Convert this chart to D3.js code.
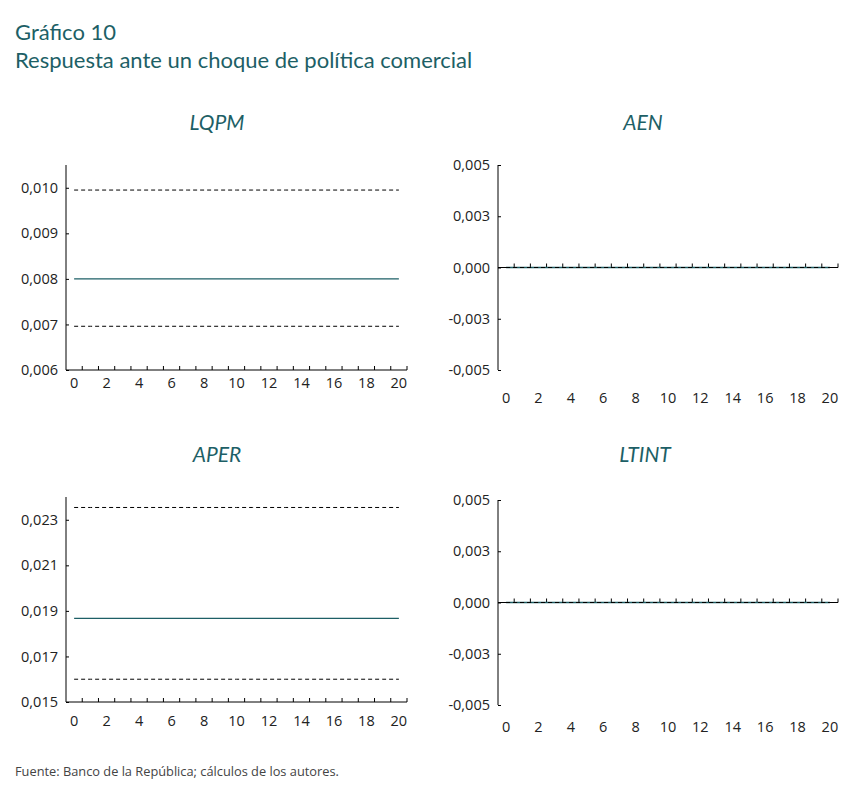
<!DOCTYPE html>
<html>
<head>
<meta charset="utf-8">
<script src="https://cdn.jsdelivr.net/npm/d3@7"></script>
<style>
  body { margin: 0; background: #fff; }
  svg text { font-family: "Lato", "Open Sans", sans-serif; }
  svg .tick text, svg .xl, svg .foot { font-family: "Open Sans", sans-serif; }
</style>
</head>
<body>
<script>
// horizons (quarters after the shock)
var horizons = [0,1,2,3,4,5,6,7,8,9,10,11,12,13,14,15,16,17,18,19,20];
var xLabels = ["0","2","4","6","8","10","12","14","16","18","20"];

// LQPM
var lqpmMid = [0.0080,0.0080,0.0080,0.0080,0.0080,0.0080,0.0080,0.0080,0.0080,0.0080,0.0080,0.0080,0.0080,0.0080,0.0080,0.0080,0.0080,0.0080,0.0080,0.0080,0.0080];
var lqpmUp  = [0.00995,0.00995,0.00995,0.00995,0.00995,0.00995,0.00995,0.00995,0.00995,0.00995,0.00995,0.00995,0.00995,0.00995,0.00995,0.00995,0.00995,0.00995,0.00995,0.00995,0.00995];
var lqpmLo  = [0.00696,0.00696,0.00696,0.00696,0.00696,0.00696,0.00696,0.00696,0.00696,0.00696,0.00696,0.00696,0.00696,0.00696,0.00696,0.00696,0.00696,0.00696,0.00696,0.00696,0.00696];
var lqpmTicks = [0.006,0.007,0.008,0.009,0.010];
var lqpmTickLabels = ["0,006","0,007","0,008","0,009","0,010"];

// AEN
var aenMid = [0,0,0,0,0,0,0,0,0,0,0,0,0,0,0,0,0,0,0,0,0];
var aenUp  = [0,0,0,0,0,0,0,0,0,0,0,0,0,0,0,0,0,0,0,0,0];
var aenLo  = [0,0,0,0,0,0,0,0,0,0,0,0,0,0,0,0,0,0,0,0,0];
var aenTicks = [-0.005,-0.0025,0,0.0025,0.005];
var aenTickLabels = ["-0,005","-0,003","0,000","0,003","0,005"];

// APER
var aperMid = [0.01867,0.01867,0.01867,0.01867,0.01867,0.01867,0.01867,0.01867,0.01867,0.01867,0.01867,0.01867,0.01867,0.01867,0.01867,0.01867,0.01867,0.01867,0.01867,0.01867,0.01867];
var aperUp  = [0.02354,0.02354,0.02354,0.02354,0.02354,0.02354,0.02354,0.02354,0.02354,0.02354,0.02354,0.02354,0.02354,0.02354,0.02354,0.02354,0.02354,0.02354,0.02354,0.02354,0.02354];
var aperLo  = [0.0160,0.0160,0.0160,0.0160,0.0160,0.0160,0.0160,0.0160,0.0160,0.0160,0.0160,0.0160,0.0160,0.0160,0.0160,0.0160,0.0160,0.0160,0.0160,0.0160,0.0160];
var aperTicks = [0.015,0.017,0.019,0.021,0.023];
var aperTickLabels = ["0,015","0,017","0,019","0,021","0,023"];

// LTINT
var ltintMid = [0,0,0,0,0,0,0,0,0,0,0,0,0,0,0,0,0,0,0,0,0];
var ltintUp  = [0,0,0,0,0,0,0,0,0,0,0,0,0,0,0,0,0,0,0,0,0];
var ltintLo  = [0,0,0,0,0,0,0,0,0,0,0,0,0,0,0,0,0,0,0,0,0];
var ltintTicks = [-0.005,-0.0025,0,0.0025,0.005];
var ltintTickLabels = ["-0,005","-0,003","0,000","0,003","0,005"];

var teal = "#1d5f66";

var svg = d3.select("body").append("svg")
    .attr("width", 859)
    .attr("height", 797);

svg.append("text").attr("x", 15).attr("y", 40)
    .attr("fill", teal).style("font-size", "22px").text("Gráfico 10");
svg.append("text").attr("x", 15).attr("y", 68)
    .attr("fill", teal).style("font-size", "22px").text("Respuesta ante un choque de política comercial");
svg.append("text").attr("class", "foot").attr("x", 15).attr("y", 776)
    .attr("fill", "#444").style("font-size", "12.8px")
    .text("Fuente: Banco de la República; cálculos de los autores.");

// one panel per variable
var panels = [
  {name: "LQPM", mid: lqpmMid, up: lqpmUp, lo: lqpmLo, domain: [0.006, 0.0105], ticks: lqpmTicks, labels: lqpmTickLabels,
   left: 66, right: 407, top: 165, bottom: 370, titleX: 217, titleY: 130, labelY: 388, axisAt: 0.006},
  {name: "AEN", mid: aenMid, up: aenUp, lo: aenLo, domain: [-0.005, 0.005], ticks: aenTicks, labels: aenTickLabels,
   left: 498, right: 838, top: 165, bottom: 370, titleX: 643, titleY: 130, labelY: 403, axisAt: 0},
  {name: "APER", mid: aperMid, up: aperUp, lo: aperLo, domain: [0.015, 0.024], ticks: aperTicks, labels: aperTickLabels,
   left: 66, right: 407, top: 497, bottom: 702, titleX: 217, titleY: 462, labelY: 726, axisAt: 0.015},
  {name: "LTINT", mid: ltintMid, up: ltintUp, lo: ltintLo, domain: [-0.005, 0.005], ticks: ltintTicks, labels: ltintTickLabels,
   left: 498, right: 838, top: 500, bottom: 705, titleX: 645, titleY: 462, labelY: 732, axisAt: 0}
];

panels.forEach(function(p) {
  var x = d3.scaleBand().domain(horizons).range([p.left, p.right]);
  var y = d3.scaleLinear().domain(p.domain).range([p.bottom, p.top]);
  var g = svg.append("g");

  g.append("text").attr("x", p.titleX).attr("y", p.titleY)
    .attr("text-anchor", "middle").attr("fill", teal)
    .style("font-size", "21px").style("font-style", "italic")
    .text(p.name);

  // y axis, ticks pointing inward
  var yAxis = d3.axisRight(y).tickValues(p.ticks).tickSize(3)
    .tickFormat(function(d, i) { return p.labels[i]; });
  var ya = g.append("g").attr("transform", "translate(" + p.left + ",0)").call(yAxis);
  ya.select(".domain").attr("d", "M0," + p.top + "V" + p.bottom).attr("stroke", "#000");
  ya.selectAll(".tick line").attr("stroke", "#000");
  ya.selectAll(".tick text").attr("x", -8).attr("text-anchor", "end")
    .attr("fill", "#222").style("font-size", "14.5px");

  // x axis line with upward ticks at category boundaries
  var ax = y(p.axisAt);
  g.append("line").attr("x1", p.left).attr("x2", p.right).attr("y1", ax).attr("y2", ax)
    .attr("stroke", "#000");
  g.selectAll(".xt").data(horizons).enter().append("line")
    .attr("x1", function(d) { return x(d) + x.bandwidth(); })
    .attr("x2", function(d) { return x(d) + x.bandwidth(); })
    .attr("y1", ax).attr("y2", ax - 4).attr("stroke", "#000");
  g.selectAll(".xl").data(horizons.filter(function(d) { return xLabels.indexOf(String(d)) >= 0; }))
    .enter().append("text").attr("class", "xl")
    .attr("x", function(d) { return x(d) + x.bandwidth() / 2; })
    .attr("y", p.labelY).attr("text-anchor", "middle")
    .attr("fill", "#222").style("font-size", "14.5px")
    .text(function(d) { return String(d); });

  var line = d3.line()
    .x(function(d, i) { return x(horizons[i]) + x.bandwidth() / 2; })
    .y(function(d) { return y(d); });

  g.append("path").datum(p.mid).attr("d", line)
    .attr("fill", "none").attr("stroke", teal).attr("stroke-width", 1.3);
  [p.up, p.lo].forEach(function(s) {
    g.append("path").datum(s).attr("d", line)
      .attr("fill", "none").attr("stroke", "#000").attr("stroke-width", 1)
      .attr("stroke-dasharray", "4,3");
  });
});
</script>
</body>
</html>
